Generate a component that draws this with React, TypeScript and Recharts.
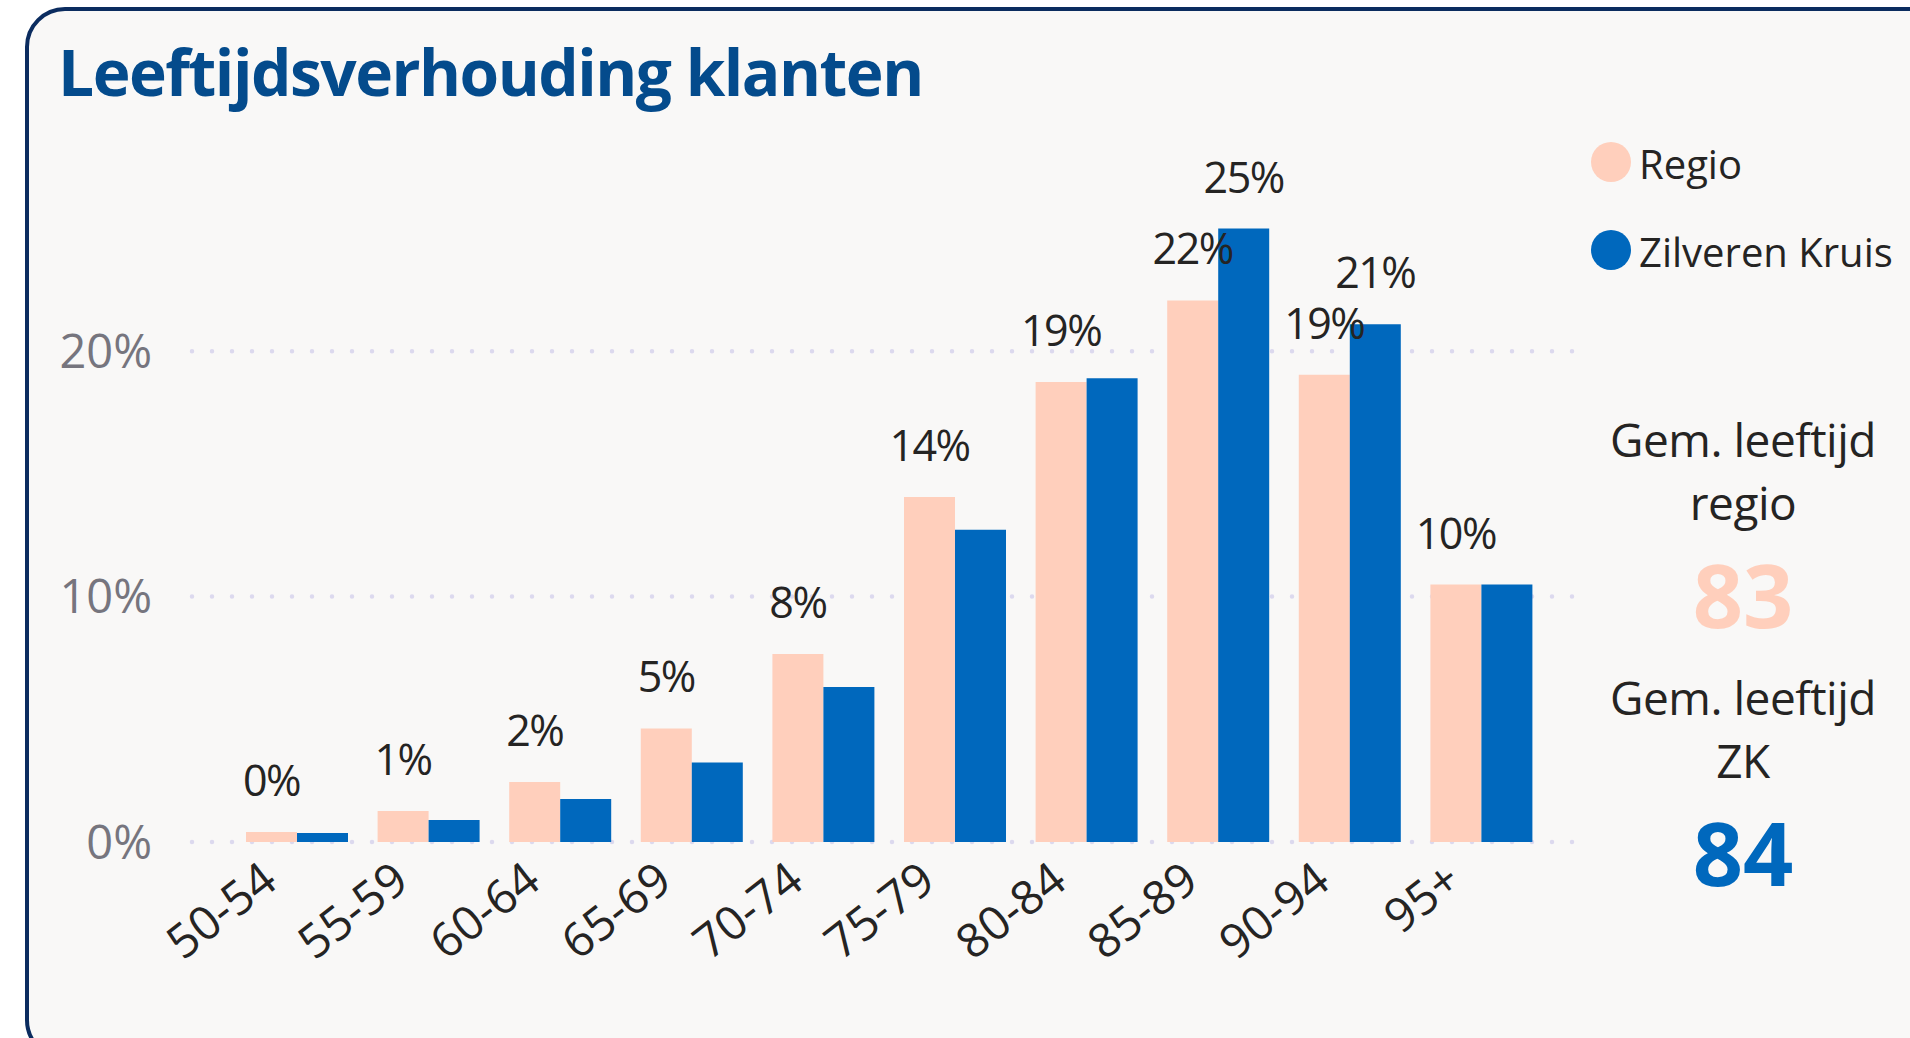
import React from 'react';
import { BarChart, Bar, XAxis, YAxis, CartesianGrid, LabelList, Legend } from 'recharts';

const ages = ['50-54', '55-59', '60-64', '65-69', '70-74', '75-79', '80-84', '85-89', '90-94', '95+'];
const regio = [0.41, 1.26, 2.45, 4.63, 7.66, 14.06, 18.75, 22.07, 19.04, 10.49];
const zk = [0.37, 0.9, 1.75, 3.24, 6.32, 12.72, 18.9, 25.0, 21.1, 10.49];
const yTicks = [0, 10, 20];
const seriesNames = ['Regio', 'Zilveren Kruis'];
const avgRegio = 83;
const avgZk = 84;

const data = ages.map((age, i) => ({ age, regio: regio[i], zk: zk[i] }));

const FONT = '"Segoe UI", "Open Sans", "Noto Sans", sans-serif';
const PINK = '#FFCFBC';
const BLUE = '#0068BD';
const TEXT = '#252423';

const AgeTick = (props: any) => {
  const { x, y, payload } = props;
  const ax = -38;
  const ay = 17;
  return (
    <g transform={`translate(${x},${y})`}>
      <text
        x={ax}
        y={ay}
        dy="0.72em"
        textAnchor="end"
        transform={`rotate(-38, ${ax}, ${ay})`}
        fontSize={47}
        fontFamily={FONT}
        fill={TEXT}
      >
        {payload.value}
      </text>
    </g>
  );
};

const makeLabel = (showFn: (i: number) => boolean) => (props: any) => {
  const { x, y, width, value, index } = props;
  if (!showFn(index)) return null;
  return (
    <text
      x={Number(x) + Number(width) / 2}
      y={Number(y) - 36}
      textAnchor="middle"
      fontSize={43}
      letterSpacing={-1.5}
      fontFamily={FONT}
      fill={TEXT}
    >
      {Math.round(Number(value))}%
    </text>
  );
};

const regioLabel = makeLabel(() => true);
const zkLabel = makeLabel((i) => zk[i] - regio[i] >= 1.5);

const DotLine = (props: any) => {
  const { x1, y1, x2, y2 } = props;
  if (Number(y1) < 210) return null;
  return (
    <line
      x1={x1}
      y1={y1}
      x2={x2}
      y2={y2}
      stroke="#DCD9EE"
      strokeWidth={4.5}
      strokeDasharray="0 20"
      strokeLinecap="round"
    />
  );
};

const LegendContent = (props: any) => {
  const { payload } = props;
  return (
    <div style={{ fontFamily: FONT, fontSize: 40, color: TEXT }}>
      {(payload || []).map((e: any, i: number) => (
        <div key={i} style={{ display: 'flex', alignItems: 'center', height: 88, whiteSpace: 'nowrap' }}>
          <div style={{ width: 40, height: 40, borderRadius: 20, background: e.color, marginRight: 8, flex: 'none' }} />
          <span style={{ lineHeight: '40px', position: 'relative', top: 2 }}>{e.value}</span>
        </div>
      ))}
    </div>
  );
};

export default function App() {
  return (
    <div
      style={{
        position: 'fixed',
        left: 0,
        top: 0,
        width: 1910,
        height: 1038,
        overflow: 'hidden',
        background: '#FFFFFF',
      }}
    >
      <div
        style={{
          position: 'absolute',
          left: 25,
          top: 7,
          width: 1950,
          height: 1053,
          boxSizing: 'border-box',
          border: '4px solid #0B2C5F',
          borderRadius: 40,
          background: '#F9F8F7',
        }}
      />
      <svg
        width={1910}
        height={1038}
        style={{ position: 'absolute', left: 0, top: 0 }}
      >
        <text x={58} y={96} fontSize={64} fontWeight={700} letterSpacing={-1.5} fontFamily={FONT} fill="#044B8C">
          Leeftijdsverhouding klanten
        </text>
        <g fontFamily={FONT} textAnchor="middle">
          <text x={1743} y={457} fontSize={46} letterSpacing={-0.5} fill={TEXT}>Gem. leeftijd</text>
          <text x={1743} y={520} fontSize={46} letterSpacing={-0.5} fill={TEXT}>regio</text>
          <text x={1743} y={628} fontSize={88} fontWeight={700} fill={PINK}>{avgRegio}</text>
          <text x={1743} y={715} fontSize={46} letterSpacing={-0.5} fill={TEXT}>Gem. leeftijd</text>
          <text x={1743} y={778} fontSize={46} letterSpacing={-0.5} fill={TEXT}>ZK</text>
          <text x={1743} y={886} fontSize={88} fontWeight={700} fill={BLUE}>{avgZk}</text>
        </g>
      </svg>
      <div style={{ position: 'absolute', left: 0, top: 0 }}>
        <BarChart
          width={1910}
          height={1038}
          data={data}
          margin={{ top: 204, right: 333, bottom: 0, left: 0 }}
          barGap={0}
          barSize={51}
        >
          <CartesianGrid vertical={false} horizontal={(p: any) => <DotLine key={p.key} {...p} />} />
          <XAxis
            dataKey="age"
            axisLine={false}
            tickLine={false}
            tickSize={0}
            tickMargin={0}
            interval={0}
            height={196}
            padding={{ left: 39, right: 30 }}
            tick={<AgeTick />}
          />
          <YAxis
            width={192}
            domain={[0, 26]}
            ticks={yTicks}
            axisLine={false}
            tickLine={false}
            tickSize={0}
            tickMargin={40}
            tickFormatter={(v: number) => `${v}%`}
            tick={{ fill: '#76757E', fontSize: 47, fontFamily: FONT }}
          />
          <Legend
            layout="vertical"
            align="center"
            verticalAlign="middle"
            content={<LegendContent />}
            wrapperStyle={{ left: 1591, top: 118, width: 319, height: 180 }}
          />
          <Bar dataKey="regio" name={seriesNames[0]} fill={PINK} isAnimationActive={false}>
            <LabelList dataKey="regio" content={regioLabel} />
          </Bar>
          <Bar dataKey="zk" name={seriesNames[1]} fill={BLUE} isAnimationActive={false}>
            <LabelList dataKey="zk" content={zkLabel} />
          </Bar>
        </BarChart>
      </div>
    </div>
  );
}
